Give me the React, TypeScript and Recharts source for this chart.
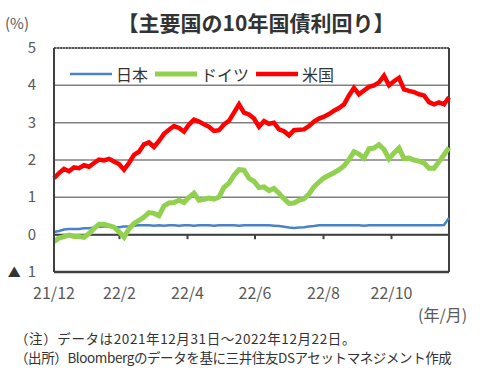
import { LineChart, Line, XAxis, YAxis, CartesianGrid, ReferenceLine, Legend } from 'recharts'

const font = '"Noto Sans CJK JP", "Noto Sans", sans-serif'

// month-end positions on the point index (0 = 2021/12/31, 79 = 2022/12/22)
const monthTicks = [0, 13.1, 26.7, 40.2, 53.9, 67.5]
const monthLabels = ['21/12', '22/2', '22/4', '22/6', '22/8', '22/10']
const yTicks = [-1, 0, 1, 2, 3, 4, 5]

const japan = [
    0.07, 0.1, 0.14, 0.15, 0.15, 0.15, 0.17, 0.17, 0.19, 0.21, 0.22, 0.22, 0.2, 0.2, 0.22, 0.22, 0.24, 0.25, 0.25, 0.25,
    0.24, 0.25, 0.24, 0.25, 0.25, 0.24, 0.25, 0.25, 0.24, 0.25, 0.25, 0.25, 0.24, 0.25, 0.25, 0.25, 0.25, 0.24, 0.25, 0.25,
    0.25, 0.25, 0.25, 0.25, 0.24, 0.23, 0.21, 0.19, 0.18, 0.19, 0.2, 0.22, 0.23, 0.25,
    0.25, 0.25, 0.25, 0.25, 0.25, 0.25, 0.25, 0.25, 0.24, 0.25, 0.25, 0.25, 0.25, 0.25, 0.25, 0.25, 0.25, 0.25, 0.25, 0.25,
    0.25, 0.25, 0.25, 0.25, 0.26, 0.45,
]

const germany = [
    -0.19, -0.09, -0.05, -0.01, -0.05, -0.05, -0.07, 0.03, 0.16, 0.28, 0.28, 0.24, 0.2, 0.08, -0.07, 0.16, 0.3, 0.38, 0.47, 0.59,
    0.57, 0.51, 0.77, 0.85, 0.86, 0.92, 0.86, 1.0, 1.11, 0.92, 0.95, 0.98, 0.95, 1.01, 1.27, 1.38, 1.59, 1.74, 1.73, 1.51,
    1.43, 1.26, 1.28, 1.18, 1.24, 1.11, 0.96, 0.84, 0.85, 0.92, 0.96, 1.09, 1.28, 1.41, 1.52, 1.59, 1.66, 1.74, 1.84, 2.01,
    2.22, 2.16, 2.05, 2.3, 2.32, 2.41, 2.28, 2.03, 2.19, 2.32, 2.04, 2.05, 2.0, 1.97, 1.92, 1.78, 1.78, 1.95, 2.14, 2.33,
]

const us = [
    1.51, 1.65, 1.76, 1.7, 1.8, 1.78, 1.86, 1.82, 1.92, 2.01, 1.99, 2.03, 1.96, 1.89, 1.74, 1.92, 2.14, 2.22, 2.42, 2.47,
    2.35, 2.51, 2.7, 2.81, 2.91, 2.86, 2.76, 2.95, 3.08, 3.03, 2.96, 2.89, 2.78, 2.8, 2.95, 3.05, 3.27, 3.49, 3.27, 3.22,
    3.11, 2.89, 3.04, 2.97, 3.0, 2.82, 2.77, 2.66, 2.8, 2.81, 2.82, 2.91, 3.03, 3.11, 3.16, 3.23, 3.32, 3.39, 3.49, 3.73,
    3.93, 3.76, 3.86, 3.96, 4.0, 4.08, 4.26, 4.0, 4.11, 4.2, 3.89, 3.85, 3.82, 3.76, 3.73, 3.55, 3.49, 3.54, 3.49, 3.68,
]

const data = us.map((v, i) => ({ i, japan: japan[i], germany: germany[i], us: v }))
const lastIndex = us.length - 1

const legendOrder = ['日本', 'ドイツ', '米国']
const legendWidths: Record<string, number> = { 日本: 2.5, ドイツ: 5, 米国: 4.5 }

function LegendRow(props: any) {
    const items = [...(props.payload || [])].sort(
        (a: any, b: any) => legendOrder.indexOf(a.value) - legendOrder.indexOf(b.value)
    )
    return (
        <div style={{ display: 'flex', alignItems: 'center', fontFamily: font, fontSize: 16, color: '#333' }}>
            {items.map((p: any) => (
                <div key={p.value} style={{ display: 'flex', alignItems: 'center', marginRight: 7 }}>
                    <svg width={42} height={10}>
                        <line x1={0} y1={5} x2={42} y2={5} stroke={p.color} strokeWidth={legendWidths[p.value]} />
                    </svg>
                    <span style={{ marginLeft: 4, whiteSpace: 'nowrap' }}>{p.value}</span>
                </div>
            ))}
        </div>
    )
}

function YTick({ x, y, payload }: any) {
    const v = payload.value
    return (
        <text x={x} y={y} dy={5} textAnchor="end" fill="#595959" fontSize={15} fontFamily={font}>
            {v < 0 ? (
                <>
                    <tspan fontSize={13} fill="#333">▲</tspan>
                    <tspan dx={7}>{Math.abs(v)}</tspan>
                </>
            ) : (
                v
            )}
        </text>
    )
}

export default function App() {
    return (
        <div style={{ position: 'absolute', left: 0, top: 0, width: 486, height: 386, background: '#fff', fontFamily: font }}>
            <div style={{ position: 'absolute', left: 0, width: 486, top: 7, textAlign: 'center', paddingLeft: 26, boxSizing: 'border-box', fontSize: 21, fontWeight: 'bold', color: '#333' }}>
                【主要国の10年国債利回り】
            </div>
            <div style={{ position: 'absolute', left: 5, top: 12, fontSize: 15, color: '#595959' }}>(%)</div>
            <LineChart width={486} height={386} data={data} margin={{ top: 48, right: 37, bottom: 84, left: 0 }}>
                <CartesianGrid vertical={false} stroke="#808080" strokeWidth={1.5} />
                <XAxis
                    dataKey="i"
                    type="number"
                    domain={[0, lastIndex]}
                    ticks={monthTicks}
                    tickFormatter={(v: number) => monthLabels[monthTicks.indexOf(v)]}
                    axisLine={false}
                    tickLine={false}
                    tickSize={0}
                    tickMargin={16}
                    height={30}
                    interval={0}
                    tick={{ fill: '#595959', fontSize: 16, fontFamily: font }}
                />
                <YAxis
                    domain={[-1, 5]}
                    ticks={yTicks}
                    width={54}
                    axisLine={{ stroke: '#404040', strokeWidth: 2 }}
                    tickLine={false}
                    tickSize={0}
                    tickMargin={18}
                    tick={<YTick />}
                    interval={0}
                />
                <ReferenceLine y={5} stroke="#404040" strokeWidth={1.5} strokeDasharray="2 1" />
                <ReferenceLine y={-1} stroke="#404040" strokeWidth={2.5} />
                <ReferenceLine x={lastIndex} stroke="#404040" strokeWidth={2} />
                <ReferenceLine y={0} stroke="#404040" strokeWidth={2} />
                {monthTicks.slice(1).map((t) => (
                    <ReferenceLine key={t} segment={[{ x: t, y: 0 }, { x: t, y: -0.12 }]} stroke="#404040" strokeWidth={2} />
                ))}
                <Legend
                    layout="vertical"
                    align="center"
                    verticalAlign="middle"
                    content={<LegendRow />}
                    wrapperStyle={{ position: 'absolute', left: 70, top: 62, width: 'auto' }}
                />
                <Line dataKey="japan" name="日本" stroke="#4a82c9" strokeWidth={2.5} dot={false} isAnimationActive={false} />
                <Line dataKey="germany" name="ドイツ" stroke="#92d050" strokeWidth={5} dot={false} isAnimationActive={false} />
                <Line dataKey="us" name="米国" stroke="#ff0000" strokeWidth={4.5} dot={false} isAnimationActive={false} />
            </LineChart>
            <div style={{ position: 'absolute', left: 418, top: 302, fontSize: 16, color: '#595959' }}>(年/月)</div>
            <div style={{ position: 'absolute', left: 15, top: 329, fontSize: 13.5, color: '#333', lineHeight: '19px' }}>
                <div style={{ letterSpacing: 0.6, whiteSpace: 'nowrap' }}>（注）データは2021年12月31日～2022年12月22日。</div>
                <div style={{ letterSpacing: -0.4, whiteSpace: 'nowrap' }}>（出所）Bloombergのデータを基に三井住友DSアセットマネジメント作成</div>
            </div>
        </div>
    )
}
